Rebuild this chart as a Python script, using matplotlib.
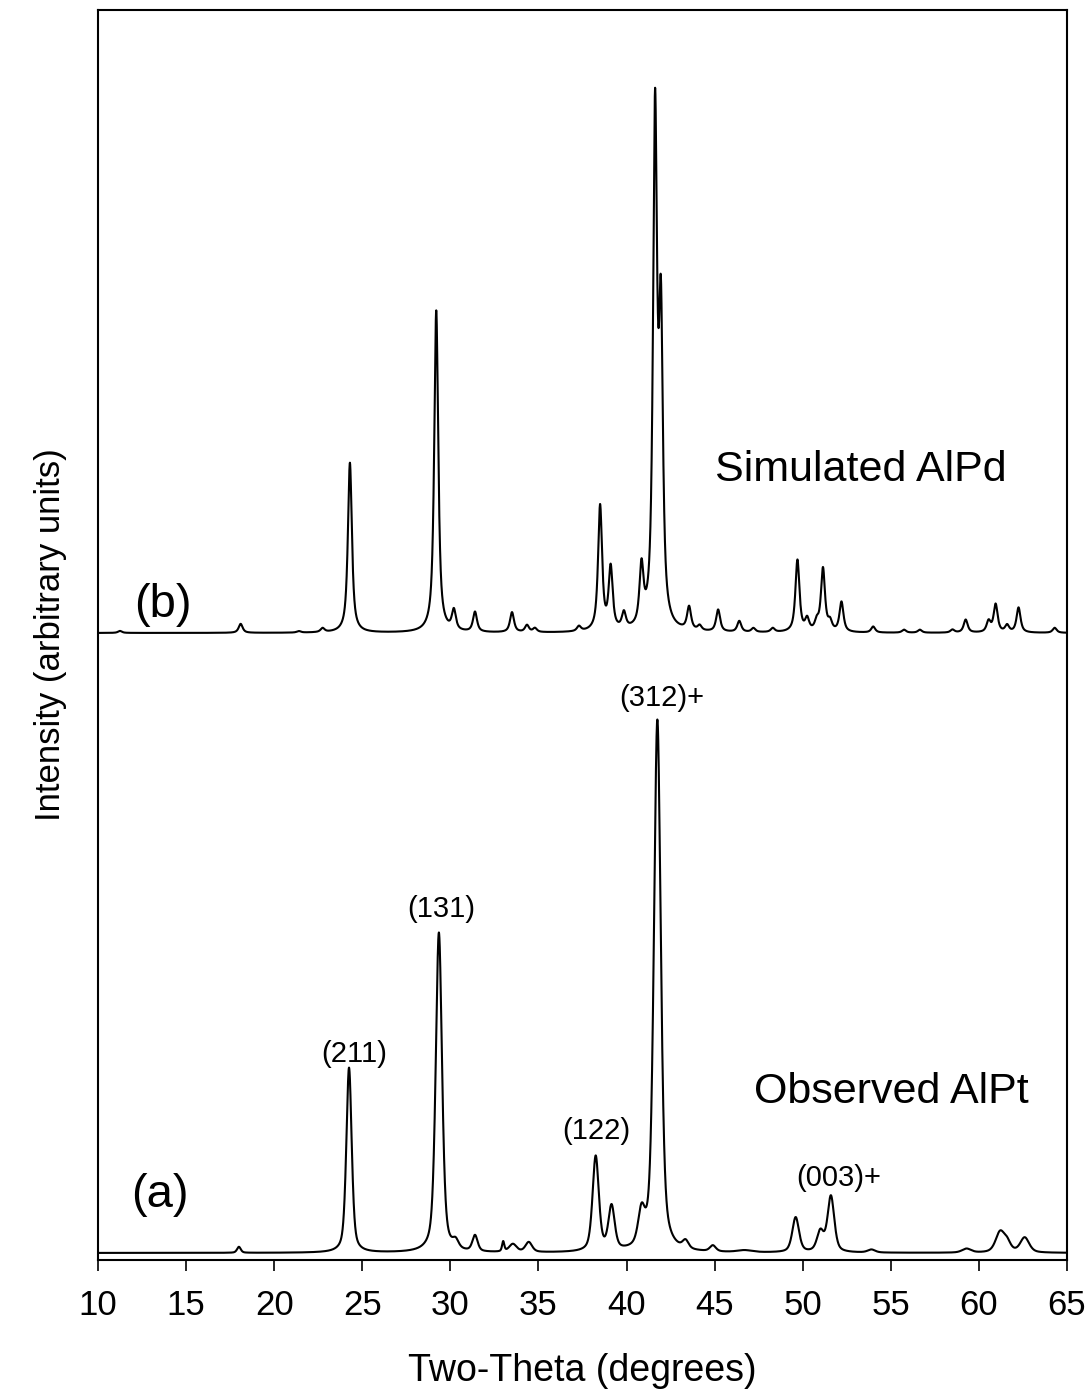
import numpy as np
import matplotlib
matplotlib.use("Agg")
import matplotlib.pyplot as plt

plt.rcParams['font.family'] = ['Liberation Sans', 'DejaVu Sans']

# ---- data (arbitrary intensity units) ----
# Observed AlPt: peak position (deg), height, FWHM (deg)
obs_pos = [18.0, 24.25, 29.35, 30.3, 31.4, 33.0, 33.55, 34.45, 38.25, 39.15,
           40.85, 41.75, 43.35, 44.9, 46.7, 49.6, 51.0, 51.6, 53.9, 59.3,
           61.2, 61.6, 62.6]
obs_height = [6, 185, 320, 8, 16, 10, 8, 10, 95, 44,
              33, 532, 8, 6, 2, 35, 20, 56, 3, 4,
              20, 9, 15]
obs_width = [0.25, 0.36, 0.42, 0.4, 0.35, 0.15, 0.5, 0.45, 0.42, 0.42,
             0.45, 0.46, 0.4, 0.4, 1.0, 0.45, 0.45, 0.45, 0.5, 0.6,
             0.6, 0.5, 0.6]
obs_background = 7

# Simulated AlPd: peak position (deg), height, FWHM (deg)
sim_pos = [11.25, 18.1, 21.4, 22.75, 24.3, 29.2, 30.2, 31.4, 33.5, 34.35,
           34.8, 37.3, 38.5, 39.1, 39.85, 40.85, 41.62, 41.95, 43.55, 44.15,
           45.2, 46.4, 47.2, 48.3, 49.7, 50.25, 50.8, 51.15, 51.55, 52.2,
           54.0, 55.75, 56.65, 58.5, 59.25, 60.55, 60.95, 61.6, 62.25, 64.3]
sim_height = [2, 9, 1.5, 4, 170, 322, 20, 20, 20, 7,
              4, 5, 125, 62, 16, 58, 508, 296, 23, 5,
              22, 11, 4, 4, 72, 12, 9, 63, 9, 30,
              6, 3, 3, 3, 13, 11, 28, 7, 25, 5]
sim_width = 0.27
sim_offset = 627

labels_text = ["(211)", "(131)", "(122)", "(312)+", "(003)+"]
labels_x = [24.55, 29.5, 38.26, 42.0, 52.03]
labels_y = [206, 351, 129, 562, 82]


def pseudo_voigt(x, pos, h, w, eta):
    g = np.exp(-4 * np.log(2) * ((x - pos) / w) ** 2)
    l = 1.0 / (1.0 + ((x - pos) / (w / 2)) ** 2)
    return h * (eta * l + (1 - eta) * g)


x = np.linspace(10, 65, 11001)
y_obs = np.full_like(x, obs_background, dtype=float)
for p, h, w in zip(obs_pos, obs_height, obs_width):
    y_obs += pseudo_voigt(x, p, h, w, 0.5)

y_sim = np.full_like(x, sim_offset, dtype=float)
for p, h in zip(sim_pos, sim_height):
    y_sim += pseudo_voigt(x, p, h, sim_width, 0.8)

fig = plt.figure(figsize=(10.92, 13.89), dpi=100)
ax = fig.add_axes([0.0897, 0.0929, 0.9771 - 0.0897, 0.9928 - 0.0929])

ax.plot(x, y_obs, color='black', lw=1.5)
ax.plot(x, y_sim, color='black', lw=1.5)

ax.set_xlim(10, 65)
ax.set_ylim(0, 1250)
ax.set_xticks(np.arange(10, 66, 5))
ax.set_yticks([])
ax.tick_params(axis='x', direction='out', length=8, width=1.2, labelsize=25, pad=13)
for s in ax.spines.values():
    s.set_linewidth(1.5)

ax.set_xlabel("Two-Theta (degrees)", fontsize=27, labelpad=22)
ax.set_ylabel("Intensity (arbitrary units)", fontsize=25, labelpad=22)

ax.text(53.3, 790, "Simulated AlPd", fontsize=31, ha='center', va='center')
ax.text(55.06, 168, "Observed AlPt", fontsize=31, ha='center', va='center')
ax.text(13.7, 655, "(b)", fontsize=34, ha='center', va='center')
ax.text(13.5, 65, "(a)", fontsize=34, ha='center', va='center')
for t, lx, ly in zip(labels_text, labels_x, labels_y):
    ax.text(lx, ly, t, fontsize=21, ha='center', va='center')

fig.savefig("out.png", dpi=100)
